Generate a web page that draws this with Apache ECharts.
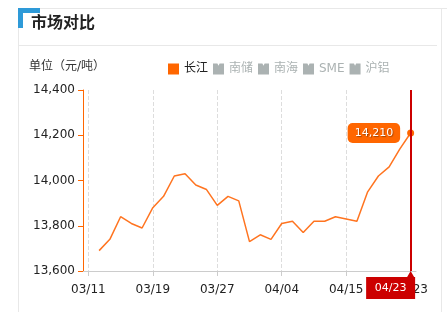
<!DOCTYPE html>
<html>
<head>
<meta charset="utf-8">
<script src="https://cdn.jsdelivr.net/npm/echarts@6/dist/echarts.min.js"></script>
<style>
  html, body { margin: 0; padding: 0; background: #fff; }
  #chart { width: 447px; height: 312px; }
</style>
</head>
<body>
<div id="chart"></div>
<script>
// Trading days shown on the category axis
const categories = [
  '03/11', '03/12', '03/13', '03/14', '03/15', '03/18', '03/19', '03/20', '03/21', '03/22',
  '03/25', '03/26', '03/27', '03/28', '03/29', '04/01', '04/02', '04/03', '04/04', '04/08',
  '04/09', '04/10', '04/11', '04/12', '04/15', '04/16', '04/17', '04/18', '04/19', '04/22', '04/23'
];

// 长江 spot price (元/吨); '-' = no quote that day
const changjiang = [
  '-', 13690, 13740, 13840, 13810, 13790, 13880, 13930, 14020, 14030,
  13980, 13960, 13890, 13930, 13910, 13730, 13760, 13740, 13810, 13820,
  13770, 13820, 13820, 13840, 13830, 13820, 13950, 14020, 14060, 14140, 14210
];

// Other markets, switched off in the legend
const nanchu = [];
const nanhai = [];
const sme = [];
const hulv = [];

const seriesNames = ['长江', '南储', '南海', 'SME', '沪铝'];

// Value axis range
const yMin = 13600;
const yMax = 14400;
const yStep = 200;

const FONT = "'DejaVu Sans', 'Noto Sans CJK SC', sans-serif";
const ORANGE = '#ff6600';
const notchIcon = 'path://M0,0 L4,0 L5,2 L6,0 L10,0 L10,10 L0,10 Z';
const dateTagPath = 'path://M0,6 L41,6 L44.5,0 L48,6 L49,6 L49,28 L0,28 Z';

const lastIdx = changjiang.length - 1;
const cjData = changjiang.map(function (v, i) {
  if (i !== lastIdx) return v;
  return {
    value: v,
    symbol: 'circle',
    symbolSize: 7,
    label: {
      show: true,
      position: 'left',
      distance: 7,
      formatter: function (p) { return echarts.format.addCommas(p.value); },
      backgroundColor: ORANGE,
      borderRadius: 5,
      padding: [5, 7, 4, 7],
      color: '#fff',
      fontSize: 11,
      fontFamily: FONT,
      textShadowColor: 'rgba(0,0,0,0.35)',
      textShadowBlur: 1,
      textShadowOffsetX: 1,
      textShadowOffsetY: 1
    }
  };
});

const chart = echarts.init(document.getElementById('chart'), null, { renderer: 'canvas' });

const BORDER = '#e8e8e8';
const option = {
  animation: false,
  textStyle: { fontFamily: FONT },
  graphic: [
    // panel frame
    { type: 'line', shape: { x1: 18, y1: 8.5, x2: 447, y2: 8.5 }, style: { stroke: BORDER, lineWidth: 1 }, z: -1 },
    { type: 'line', shape: { x1: 18.5, y1: 8, x2: 18.5, y2: 312 }, style: { stroke: BORDER, lineWidth: 1 }, z: -1 },
    { type: 'line', shape: { x1: 441.5, y1: 8, x2: 441.5, y2: 312 }, style: { stroke: BORDER, lineWidth: 1 }, z: -1 },
    { type: 'line', shape: { x1: 18, y1: 45.5, x2: 437, y2: 45.5 }, style: { stroke: BORDER, lineWidth: 1 }, z: -1 },
    // blue corner accent
    { type: 'rect', shape: { x: 18, y: 8, width: 22, height: 5 }, style: { fill: '#2e9ad8' } },
    { type: 'rect', shape: { x: 18, y: 8, width: 5, height: 20 }, style: { fill: '#2e9ad8' } }
  ],
  title: [
    {
      text: '市场对比',
      left: 31, top: 16, padding: 0,
      textStyle: { fontSize: 16, fontWeight: 'bold', color: '#222', fontFamily: FONT }
    },
    {
      text: '单位（元/吨）',
      left: 29, top: 61, padding: 0,
      textStyle: { fontSize: 12, fontWeight: 'normal', color: '#333', fontFamily: FONT }
    }
  ],
  legend: {
    left: 168, top: 63, padding: 0,
    itemWidth: 11, itemHeight: 11, itemGap: 5,
    inactiveColor: '#abb2b2',
    textStyle: { fontSize: 12, color: '#222', fontFamily: FONT },
    data: [
      { name: seriesNames[0], icon: 'rect' },
      { name: seriesNames[1], icon: notchIcon },
      { name: seriesNames[2], icon: notchIcon },
      { name: seriesNames[3], icon: notchIcon },
      { name: seriesNames[4], icon: notchIcon }
    ],
    selected: { '长江': true, '南储': false, '南海': false, 'SME': false, '沪铝': false }
  },
  grid: { left: 83, right: 31, top: 90, bottom: 41, containLabel: false },
  xAxis: {
    type: 'category',
    data: categories,
    boundaryGap: true,
    axisLine: { lineStyle: { color: '#ccc', width: 1 } },
    axisTick: { show: true, interval: 5, alignWithLabel: true, length: 5, lineStyle: { color: '#ccc' } },
    axisLabel: { interval: 5, margin: 13, color: '#222', fontSize: 12, fontFamily: FONT },
    splitLine: { show: true, interval: 5, alignWithLabel: true, lineStyle: { color: '#ddd', type: 'dashed' } }
  },
  yAxis: {
    type: 'value',
    min: yMin, max: yMax, interval: yStep,
    axisLine: { show: true, lineStyle: { color: ORANGE, width: 1 } },
    axisTick: { show: true, length: 5, lineStyle: { color: ORANGE } },
    axisLabel: { color: '#222', fontSize: 12, margin: 8, fontFamily: FONT,
      formatter: function (v) { return echarts.format.addCommas(v); } },
    splitLine: { show: false }
  },
  series: [
    {
      name: seriesNames[0],
      type: 'line',
      data: cjData,
      symbol: 'none',
      showSymbol: true,
      itemStyle: { color: ORANGE },
      lineStyle: { color: '#ff7420', width: 1.5 },
      z: 3,
      markLine: {
        silent: true,
        symbol: 'none',
        label: { show: false },
        lineStyle: { color: '#cc0000', width: 2, type: 'solid' },
        data: [{ xAxis: categories[lastIdx] }]
      },
      markPoint: {
        silent: true,
        symbol: dateTagPath,
        symbolSize: [49, 28],
        symbolKeepAspect: false,
        symbolOffset: [-20, 14],
        itemStyle: { color: '#cc0000' },
        label: {
          show: true,
          position: 'inside',
          offset: [0, 3],
          formatter: '{b}',
          color: '#fff',
          fontSize: 11,
          fontFamily: FONT
        },
        data: [{ name: categories[lastIdx], coord: [categories[lastIdx], yMin] }]
      }
    },
    { name: seriesNames[1], type: 'line', data: nanchu, itemStyle: { color: '#4a90d9' } },
    { name: seriesNames[2], type: 'line', data: nanhai, itemStyle: { color: '#5cb85c' } },
    { name: seriesNames[3], type: 'line', data: sme, itemStyle: { color: '#9b59b6' } },
    { name: seriesNames[4], type: 'line', data: hulv, itemStyle: { color: '#f0ad4e' } }
  ]
};

chart.setOption(option);
</script>
</body>
</html>
